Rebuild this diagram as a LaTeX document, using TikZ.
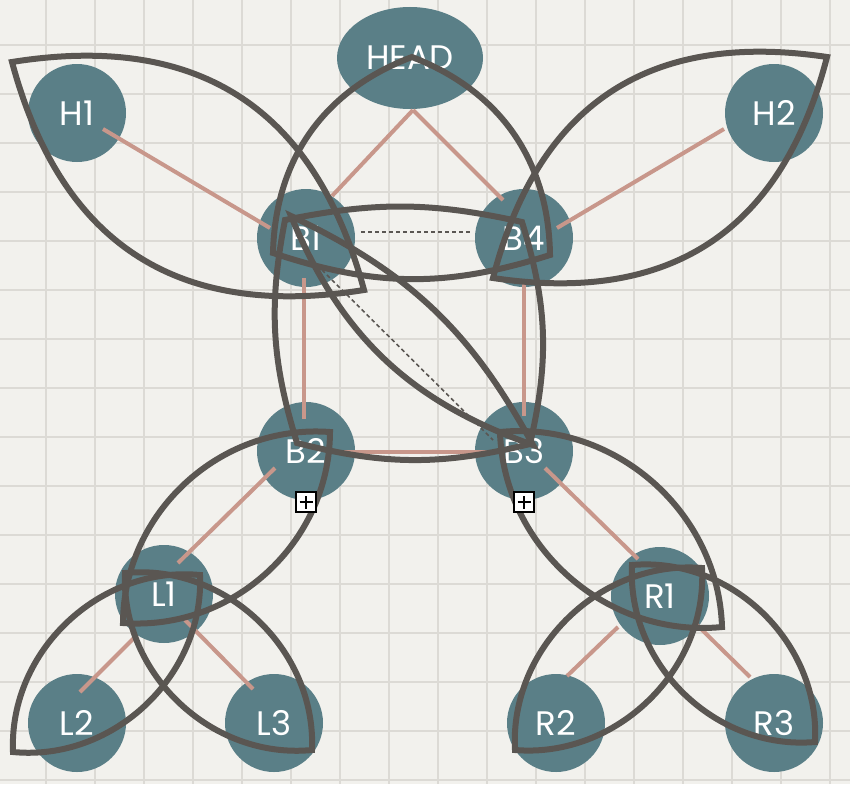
\documentclass[tikz,border=0pt]{standalone}
\usepackage{fontspec}
\newfontfamily\nodefont{Poppins}
\usetikzlibrary{calc,shapes.geometric}
\definecolor{paper}{HTML}{F2F1ED}
\definecolor{gridc}{HTML}{DCDAD5}
\definecolor{nodeteal}{HTML}{5A7F87}
\definecolor{hedgec}{HTML}{5A5652}
\definecolor{salmon}{HTML}{C8978B}
\begin{document}
\begin{tikzpicture}[x=1pt,y=-1pt,
  gridline/.style={draw=gridc,line width=2pt},
  vnode/.style={circle,fill=nodeteal,minimum size=98pt,inner sep=0pt,text=white,
    font=\nodefont\fontsize{34}{34}\selectfont},
  headnode/.style={ellipse,fill=nodeteal,minimum width=146pt,minimum height=102pt,inner sep=0pt,
    text=white,font=\nodefont\fontsize{34}{34}\selectfont},
  edge/.style={draw=salmon,line width=4pt},
  dotedge/.style={draw=hedgec,line width=1.6pt,dash pattern=on 4pt off 3pt},
  hyper/.style={draw=hedgec,line width=6pt,line join=miter,miter limit=3},
  plusbox/.style={draw=black,fill=white,line width=1.8pt,minimum size=20pt,inner sep=0pt,
    path picture={\draw[line width=1.5pt]
      ([xshift=-6.5pt]path picture bounding box.center) -- ([xshift=6.5pt]path picture bounding box.center)
      ([yshift=-6.5pt]path picture bounding box.center) -- ([yshift=6.5pt]path picture bounding box.center);}}
]
\useasboundingbox (0,0) rectangle (850,784);
\fill[paper] (0,0) rectangle (850,784);
\foreach \x in {46,95,...,830} \draw[gridline] (\x,0) -- (\x,784);
\foreach \y in {45,94,...,780} \draw[gridline] (0,\y) -- (850,\y);

% nodes
\node[headnode] (HEAD) at (410,58) {HEAD};
\node[vnode] (H1) at (77,113) {H1};
\node[vnode] (H2) at (774,113) {H2};
\node[vnode] (B1) at (306,238) {B1};
\node[vnode] (B4) at (524,238) {B4};
\node[vnode] (B2) at (306,451) {B2};
\node[vnode] (B3) at (524,451) {B3};
\node[vnode] (L1) at (164,594) {L1};
\node[vnode] (L2) at (77,723) {L2};
\node[vnode] (L3) at (274,723) {L3};
\node[vnode] (R1) at (660,596) {R1};
\node[vnode] (R2) at (556,723) {R2};
\node[vnode] (R3) at (774,723) {R3};

% edges
\draw[edge] ($(H1)+(26,16)$) -- ($(B1)+(-36,-10)$);
\draw[edge] ($(H2)+(-50,16)$) -- ($(B4)+(33,-10)$);
\draw[edge] ($(HEAD)+(3,52)$) -- ($(B1)+(26,-42)$);
\draw[edge] ($(HEAD)+(3,52)$) -- ($(B4)+(-21,-38)$);
\draw[edge] ($(B1)+(-2,40)$) -- ($(B2)+(-2,-32)$);
\draw[edge] ($(B4)+(0,42)$) -- ($(B3)+(0,-35)$);
\draw[edge] ($(B2)+(36,1)$) -- ($(B3)+(-37,1)$);
\draw[edge] ($(B2)+(-31,17)$) -- ($(L1)+(14,-31)$);
\draw[edge] ($(L1)+(-27,41)$) -- ($(L2)+(3,-31)$);
\draw[edge] ($(L1)+(21,26)$) -- ($(L3)+(-21,-34)$);
\draw[edge] ($(B3)+(21,17)$) -- ($(R1)+(-22,-37)$);
\draw[edge] ($(R1)+(-42,31)$) -- ($(R2)+(11,-47)$);
\draw[edge] ($(R1)+(35,27)$) -- ($(R3)+(-24,-46)$);

% dotted edges
\draw[dotedge] ($(B1)+(55,-6)$) -- ($(B4)+(-54,-6)$);
\draw[dotedge] ($(B1)+(16,32)$) -- ($(B3)+(-31,-11)$);

% hyperedge corners
\coordinate (h1a) at (12,62);   \coordinate (h1b) at (364,290);
\coordinate (h2a) at (827,57);  \coordinate (h2b) at (493,278);
\coordinate (tT) at (412,57);   \coordinate (tR) at (550,255);  \coordinate (tL) at (273,253);
\coordinate (sTL) at (285,220); \coordinate (sTR) at (522,222);
\coordinate (sBR) at (530,444); \coordinate (sBL) at (297,443);
\coordinate (d1) at (291,216);  \coordinate (d2) at (533,445);
\coordinate (bl1) at (330,432); \coordinate (bl2) at (123,623);
\coordinate (br1) at (500,432); \coordinate (br2) at (722,627);
\coordinate (l2a) at (200,575); \coordinate (l2b) at (13,752);
\coordinate (l3a) at (125,573); \coordinate (l3b) at (312,750);
\coordinate (r2a) at (702,568); \coordinate (r2b) at (515,750);
\coordinate (r3a) at (632,565); \coordinate (r3b) at (815,742);

% hyperedges
\draw[hyper] (h1a) to[bend left=42,looseness=1.15] (h1b) to[bend left=42,looseness=1.15] (h1a) -- cycle;
\draw[hyper] (h2a) to[bend left=42,looseness=1.15] (h2b) to[bend left=42,looseness=1.15] (h2a) -- cycle;
\draw[hyper] (tT) to[bend left=34] (tR) to[bend left=18] (tL) to[bend left=34] (tT) -- cycle;
\draw[hyper] (sTL) to[bend left=12] (sTR) to[bend left=15] (sBR) to[bend left=14] (sBL) to[bend left=14] (sTL) -- cycle;
\draw[hyper] (d1) to[bend left=18] (d2) to[bend left=24] (d1) -- cycle;
\draw[hyper] (bl1) to[bend left=47] (bl2) to[bend left=47] (bl1) -- cycle;
\draw[hyper] (br1) to[bend left=47] (br2) to[bend left=47] (br1) -- cycle;
\draw[hyper] (l2a) to[bend left=49] (l2b) to[bend left=49] (l2a) -- cycle;
\draw[hyper] (l3a) to[bend left=49] (l3b) to[bend left=49] (l3a) -- cycle;
\draw[hyper] (r2a) to[bend left=49] (r2b) to[bend left=49] (r2a) -- cycle;
\draw[hyper] (r3a) to[bend left=49] (r3b) to[bend left=49] (r3a) -- cycle;

% collapse boxes
\node[plusbox] (pb1) at (306,502) {};
\node[plusbox] (pb2) at (524,502) {};
\end{tikzpicture}
\end{document}
